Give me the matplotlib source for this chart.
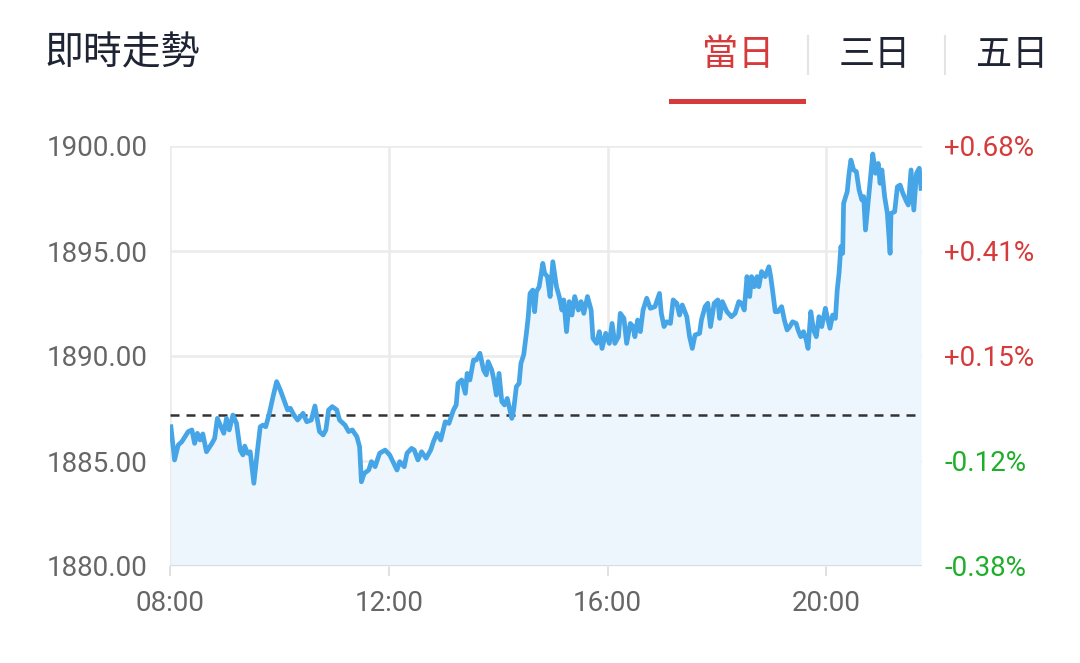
import matplotlib
matplotlib.use("Agg")
import matplotlib.pyplot as plt
from matplotlib.lines import Line2D
from matplotlib.patches import Rectangle

# ---- data (minutes after 08:00, price) ----
minutes = [1, 5, 9, 13, 20, 24, 27, 30, 33, 36, 40, 46, 49, 52, 56, 59, 62, 65, 69, 73,
           77, 80, 82, 85, 88, 92, 96, 99, 102, 105, 109, 113, 117, 121, 125, 129, 132, 136, 140, 143,
           146, 150, 155, 159, 164, 168, 171, 174, 178, 183, 186, 192, 196, 200, 205, 208, 210, 213, 218, 221,
           225, 230, 236, 241, 249,
           252, 257, 260, 265, 268, 272, 276, 281, 286, 289, 293, 297, 302, 306, 311, 314, 316, 320, 324, 326,
           329, 333, 336, 340, 344, 347, 349, 353, 355, 358, 361, 364, 367, 370, 375, 377, 380, 383, 385, 388,
           391, 393, 395, 398, 400, 402, 405, 409, 411, 414, 417, 420, 424, 427, 430, 432, 435, 438, 441, 444,
           448, 451, 454, 458, 462, 464, 468, 471, 474, 478, 482, 485, 488, 492, 494, 498, 501, 505, 508, 510,
           513, 516, 519, 523, 527, 532, 537,
           539, 542, 545, 549, 552, 556, 559, 562, 567, 570, 573, 576, 581, 583, 587, 590, 593, 597, 601, 603,
           606, 611, 616, 620, 624, 627, 630, 633, 636, 638, 641, 644, 646, 649, 653, 657, 659, 661, 664, 667,
           671, 674, 677, 680, 683, 687, 689, 692, 695, 698, 700, 703, 706, 709, 712, 715, 719, 721, 724, 727,
           730, 732, 734, 736, 738, 739, 743, 745, 747, 750, 753, 756, 759, 761, 763, 766, 769, 771, 774, 777,
           779, 781, 784, 787, 790, 791, 795, 798, 801, 804, 808, 810, 813, 816, 819, 822, 824]
prices = [1886.63, 1885.05, 1885.76, 1885.92, 1886.40, 1886.48, 1885.84, 1886.32, 1886.00, 1886.29,
          1885.44, 1885.84, 1886.08, 1887.03, 1886.63, 1886.32, 1887.03, 1886.48, 1887.19, 1886.79,
          1885.52, 1885.29, 1885.71, 1885.37, 1885.44, 1883.94, 1885.52, 1886.63, 1886.71, 1886.63,
          1887.27, 1888.06, 1888.78, 1888.38, 1887.90, 1887.43, 1887.51, 1887.19, 1886.95, 1887.11,
          1887.27, 1886.87, 1886.95, 1887.62, 1886.40, 1886.24, 1886.48, 1887.43, 1887.59, 1887.43,
          1886.95, 1886.71, 1886.40, 1886.48, 1886.16, 1885.68, 1884.01, 1884.41, 1884.57, 1884.97,
          1884.73, 1885.37, 1885.52, 1885.29, 1884.57,
          1884.97, 1884.73, 1885.37, 1885.60, 1885.52, 1885.05, 1885.44, 1885.13, 1885.52, 1885.92,
          1886.32, 1886.00, 1886.87, 1886.79, 1887.43, 1887.67, 1888.70, 1888.86, 1888.22, 1889.17,
          1888.86, 1889.81, 1889.81, 1890.13, 1889.33, 1889.10, 1889.73, 1889.33, 1888.94, 1888.14,
          1889.17, 1887.83, 1887.67, 1887.98, 1887.03, 1887.43, 1888.54, 1888.70, 1889.65, 1890.05,
          1891.08, 1891.87, 1892.98, 1893.14, 1892.11, 1893.06, 1893.30, 1894.41, 1893.94, 1893.78,
          1892.83, 1894.49, 1893.30, 1892.83, 1892.19, 1892.67, 1891.16, 1892.59, 1891.95, 1892.83,
          1892.19, 1892.59, 1892.03, 1892.83, 1892.19, 1890.84, 1890.60, 1891.16, 1890.36, 1891.08,
          1890.60, 1891.55, 1890.60, 1890.92, 1892.03, 1891.79, 1890.60, 1891.55, 1891.40, 1890.92,
          1891.71, 1891.16, 1892.19, 1892.75, 1892.27, 1892.35, 1892.98,
          1892.03, 1891.40, 1891.63, 1891.55, 1892.67, 1892.51, 1891.95, 1892.43, 1891.87, 1890.92,
          1890.36, 1891.00, 1891.08, 1891.71, 1892.35, 1892.51, 1891.40, 1892.51, 1892.67, 1891.79,
          1892.59, 1892.11, 1891.87, 1892.03, 1892.59, 1892.51, 1892.19, 1893.78, 1892.83, 1893.78,
          1893.30, 1893.78, 1893.30, 1894.02, 1893.78, 1894.25, 1893.78, 1893.14, 1892.11, 1892.11,
          1892.35, 1891.71, 1891.24, 1891.40, 1891.63, 1891.55, 1891.24, 1890.92, 1891.16, 1890.76,
          1890.36, 1892.11, 1891.24, 1890.92, 1891.87, 1891.40, 1892.27, 1891.87, 1891.32, 1891.95,
          1891.79, 1893.14, 1893.94, 1895.21, 1894.89, 1897.27, 1897.83, 1898.70, 1899.33, 1898.86,
          1898.78, 1897.90, 1897.43, 1897.59, 1896.00, 1897.35, 1898.70, 1899.62, 1898.70, 1899.17,
          1898.22, 1898.86, 1897.59, 1896.79, 1894.89, 1896.79, 1896.87, 1898.06, 1898.14, 1897.75,
          1897.35, 1897.19, 1898.86, 1896.95, 1898.70, 1898.94, 1897.98]
prev_close = 1887.2
y_ticks = [1880, 1885, 1890, 1895, 1900]
y_labels = ["1880.00", "1885.00", "1890.00", "1895.00", "1900.00"]
pct_labels = ["-0.38%", "-0.12%", "+0.15%", "+0.41%", "+0.68%"]
x_ticks = [0, 240, 480, 720]
x_labels = ["08:00", "12:00", "16:00", "20:00"]
title = "即時走勢"
tabs = ["當日", "三日", "五日"]

RED = "#d63a3a"
GREEN = "#1fae2a"
GRAY = "#666666"
NAVY = "#1e2433"
LINE = "#46a5e6"
FILL = "#eef6fd"
GRID = "#ebebeb"
NUMFONT = ["Roboto", "DejaVu Sans"]
CJK = ["Noto Sans CJK TC", "DejaVu Sans"]

fig = plt.figure(figsize=(10.8, 6.63), dpi=100)
W, H = 1080, 663
ax = fig.add_axes([170 / W, (H - 566) / H, (922 - 170) / W, (566 - 146) / H])
ax.set_xlim(0, 825)
ax.set_ylim(1880, 1900)

ax.fill_between(minutes, prices, 1880, color=FILL, lw=0, zorder=1)
ax.plot(minutes, prices, color=LINE, lw=3.4, solid_joinstyle="round", zorder=4)
ax.axhline(prev_close, color="#333333", lw=1.8, dashes=(3.6, 2.8), zorder=3)

for s in ax.spines.values():
    s.set_visible(False)
ax.set_yticks(y_ticks)
ax.set_yticklabels(y_labels)
ax.set_xticks(x_ticks)
ax.set_xticklabels(x_labels)
ax.grid(True, color=GRID, lw=1.8, zorder=0)
ax.set_axisbelow(True)
ax.axhline(1880, color="#dcdcdc", lw=2.2, zorder=2)
ax.tick_params(axis="y", length=0, pad=16, labelsize=20, labelcolor=GRAY)
ax.tick_params(axis="x", length=7, width=1.2, color="#dcdcdc", pad=10, labelsize=20, labelcolor=GRAY)
for lab in ax.get_xticklabels() + ax.get_yticklabels():
    lab.set_family(NUMFONT)

ax2 = ax.twinx()
ax2.set_ylim(1880, 1900)
for s in ax2.spines.values():
    s.set_visible(False)
ax2.set_yticks(y_ticks)
ax2.set_yticklabels(pct_labels)
ax2.tick_params(axis="y", length=0, pad=16, labelsize=20)
for lab, txt in zip(ax2.get_yticklabels(), pct_labels):
    lab.set_family(NUMFONT)
    lab.set_color(RED if txt.startswith("+") else GREEN)

# header
fig.text(44 / W, 1 - 53 / H, title, fontsize=28, color=NAVY, family=CJK, va="center", ha="left")
tab_x = [738, 875, 1012]
for i, (t, xc) in enumerate(zip(tabs, tab_x)):
    fig.text(xc / W, 1 - 55 / H, t, fontsize=26, color=RED if i == 0 else NAVY,
             family=CJK, va="center", ha="center")
for xs in [808, 945]:
    fig.add_artist(Line2D([xs / W, xs / W], [1 - 36 / H, 1 - 74 / H], color="#e3e3e3", lw=1.5))
fig.add_artist(Rectangle((669 / W, 1 - 104 / H), (806 - 669) / W, 5 / H, color=RED, lw=0))

fig.savefig("out.png", dpi=100, facecolor="white")
